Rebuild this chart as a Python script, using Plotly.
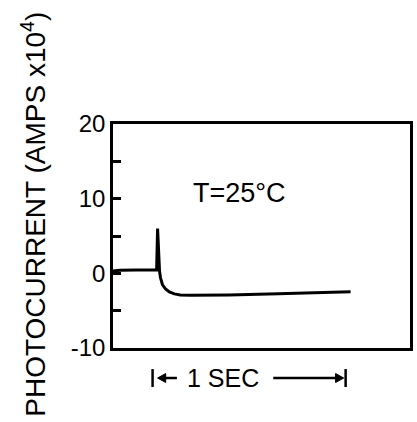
import plotly.graph_objects as go

# Photocurrent transient at 25 °C; time in seconds from the left edge of the frame
time_s = [0.0, 0.036, 0.120, 0.226, 0.231, 0.236, 0.241, 0.246, 0.256, 0.272, 0.292,
          0.318, 0.349, 0.400, 0.472, 0.600, 0.856, 1.062, 1.231]
current = [0.3, 0.4, 0.45, 0.45, 6.0, 2.0, 0.3, -0.6, -1.5, -2.1, -2.5,
           -2.75, -2.9, -2.95, -2.95, -2.9, -2.75, -2.6, -2.45]

y_tick_vals = [-10, 0, 10, 20]
y_tick_text = ["-10", "0", "10", "20"]
y_minor_step = 5

# one-second scale bar below the frame (x in seconds)
sec_start = 0.205
sec_end = 1.205

FONT = "Liberation Sans"
INK = "black"
BAR_Y = -0.134      # vertical centre of the scale bar, paper units
HEAD_LEN = 0.042    # arrowhead length, seconds
HEAD_HALF = 0.02    # arrowhead half-height, paper units

fig = go.Figure()
fig.add_trace(go.Scatter(x=time_s, y=current, mode="lines",
                         line=dict(color=INK, width=3), hoverinfo="skip",
                         showlegend=False))

fig.update_xaxes(range=[0, 300 / 195], showline=True, mirror=True, linecolor=INK,
                 linewidth=2.5, showticklabels=False, ticks="", showgrid=False,
                 zeroline=False)
fig.update_yaxes(range=[-10, 20], tickvals=y_tick_vals, ticktext=y_tick_text,
                 ticks="inside", ticklen=8, tickwidth=2.5, tickcolor=INK,
                 minor=dict(ticks="inside", ticklen=8, tickwidth=2.5, tickcolor=INK,
                            dtick=y_minor_step, tick0=0, showgrid=False),
                 showline=True, mirror=True, linecolor=INK, linewidth=2.5,
                 showgrid=False, zeroline=False,
                 tickfont=dict(family=FONT, size=24, color=INK))

annotations = [
    dict(text="PHOTOCURRENT (AMPS x10<sup>4</sup>)", textangle=-90,
         xref="paper", yref="paper", x=-0.267, y=0.598, showarrow=False,
         xanchor="center", yanchor="middle",
         font=dict(family=FONT, size=28, color=INK)),
    dict(text="T=25°C", xref="paper", yref="paper", x=0.427, y=0.692,
         xanchor="center", yanchor="middle",
         showarrow=False, font=dict(family=FONT, size=27, color=INK)),
    dict(text="1 SEC", xref="x", yref="paper", x=0.57, y=BAR_Y,
         xanchor="center", yanchor="middle",
         showarrow=False, font=dict(family=FONT, size=25, color=INK)),
]


def arrowhead(tip, direction):
    base = tip - direction * HEAD_LEN
    return dict(type="path", xref="x", yref="paper",
                path=f"M {tip},{BAR_Y} L {base},{BAR_Y + HEAD_HALF} "
                     f"L {base},{BAR_Y - HEAD_HALF} Z",
                fillcolor=INK, line=dict(color=INK, width=1))


left_tip = sec_start + 0.026
right_tip = sec_end - 0.01
line_style = dict(color=INK, width=2.5)

shapes = [
    # end bars
    dict(type="line", xref="x", yref="paper", x0=sec_start, x1=sec_start,
         y0=BAR_Y + 0.04, y1=BAR_Y - 0.04, line=line_style),
    dict(type="line", xref="x", yref="paper", x0=sec_end, x1=sec_end,
         y0=BAR_Y + 0.04, y1=BAR_Y - 0.04, line=line_style),
    # short left-pointing arrow
    dict(type="line", xref="x", yref="paper", x0=left_tip + HEAD_LEN * 0.5,
         x1=left_tip + 0.10, y0=BAR_Y, y1=BAR_Y, line=line_style),
    arrowhead(left_tip, -1),
    # long right-pointing arrow
    dict(type="line", xref="x", yref="paper", x0=0.83,
         x1=right_tip - HEAD_LEN * 0.5, y0=BAR_Y, y1=BAR_Y, line=line_style),
    arrowhead(right_tip, 1),
]

fig.update_layout(width=417, height=422, margin=dict(l=113, r=4, t=124, b=74),
                  plot_bgcolor="white", paper_bgcolor="white",
                  annotations=annotations, shapes=shapes)

fig.write_html("out.html")
